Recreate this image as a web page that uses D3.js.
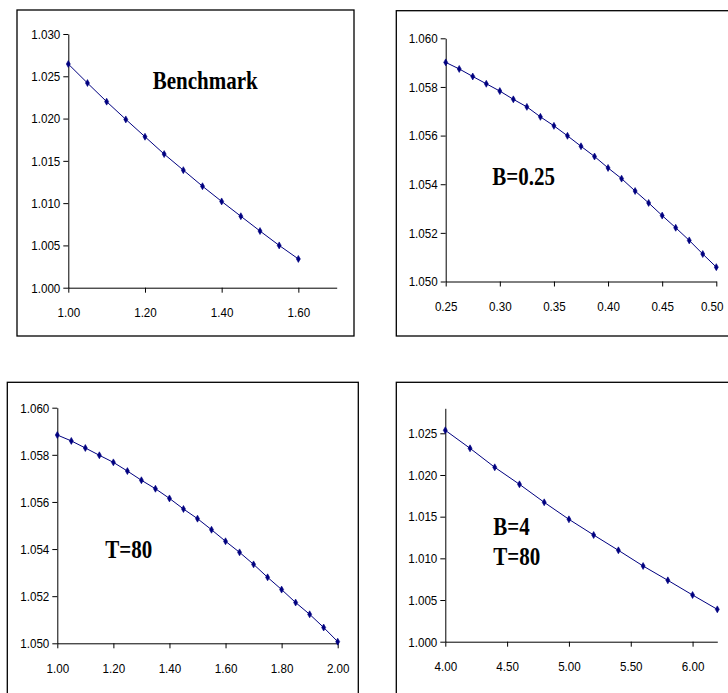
<!DOCTYPE html>
<html>
<head>
<meta charset="utf-8">
<script src="https://cdn.jsdelivr.net/npm/d3@7"></script>
<style>
  html, body { margin: 0; padding: 0; background: #fff; }
  svg { display: block; }
</style>
</head>
<body>
<svg id="chart" width="728" height="693"></svg>
<script>
// ---- data ----
const benchX = [1.00, 1.05, 1.10, 1.15, 1.20, 1.25, 1.30, 1.35, 1.40, 1.45, 1.50, 1.55, 1.60];
const benchY = [1.02645, 1.0242, 1.0220, 1.0199, 1.01785, 1.0158, 1.0139, 1.0120, 1.0102, 1.00845, 1.0067, 1.0050, 1.0034];

const b025X = [0.2500, 0.2625, 0.2750, 0.2875, 0.3000, 0.3125, 0.3250, 0.3375, 0.3500, 0.3625, 0.3750,
               0.3875, 0.4000, 0.4125, 0.4250, 0.4375, 0.4500, 0.4625, 0.4750, 0.4875, 0.5000];
const b025Y = [1.05901, 1.05874, 1.05843, 1.05813, 1.05783, 1.05749, 1.05718, 1.05677, 1.05640, 1.05599, 1.05556,
               1.05514, 1.05467, 1.05423, 1.05372, 1.05323, 1.05271, 1.05221, 1.05169, 1.05113, 1.05059];

const t80X = [1.00, 1.05, 1.10, 1.15, 1.20, 1.25, 1.30, 1.35, 1.40, 1.45, 1.50,
              1.55, 1.60, 1.65, 1.70, 1.75, 1.80, 1.85, 1.90, 1.95, 2.00];
const t80Y = [1.05884, 1.05859, 1.05829, 1.05798, 1.05768, 1.05731, 1.05692, 1.05656, 1.05615, 1.05570, 1.05529,
              1.05482, 1.05433, 1.05386, 1.05335, 1.05280, 1.05228, 1.05173, 1.05123, 1.05067, 1.05007];

const b4t80X = [4.0, 4.2, 4.4, 4.6, 4.8, 5.0, 5.2, 5.4, 5.6, 5.8, 6.0, 6.2];
const b4t80Y = [1.02536, 1.0232, 1.02092, 1.01888, 1.01672, 1.01468, 1.0128, 1.01096, 1.00908, 1.00736, 1.0056, 1.00388];

// tick values
const xTicksBench = [1.0, 1.2, 1.4, 1.6];
const yTicksLow = [1.000, 1.005, 1.010, 1.015, 1.020, 1.025, 1.030];
const xTicksB025 = [0.25, 0.30, 0.35, 0.40, 0.45, 0.50];
const yTicksHigh = [1.050, 1.052, 1.054, 1.056, 1.058, 1.060];
const xTicksT80 = [1.0, 1.2, 1.4, 1.6, 1.8, 2.0];
const xTicksB4 = [4.0, 4.5, 5.0, 5.5, 6.0];
const yTicksB4 = [1.000, 1.005, 1.010, 1.015, 1.020, 1.025];

// panel titles (one entry per line)
const titleBench = ["Benchmark"];
const titleB025 = ["B=0.25"];
const titleT80 = ["T=80"];
const titleB4 = ["B=4", "T=80"];

// ---- layout ----
const panels = [
  { xs: benchX, ys: benchY, xDom: [1.0, 1.7], yDom: [1.000, 1.030], xTicks: xTicksBench, yTicks: yTicksLow,
    box: [17, 10, 354, 336], xr: [68.3, 336.7], yr: [287.7, 34],
    title: titleBench, tx: 152.7, ty: 89.3 },
  { xs: b025X, ys: b025Y, xDom: [0.25, 0.50], yDom: [1.050, 1.060], xTicks: xTicksB025, yTicks: yTicksHigh,
    box: [396.3, 10.7, 740, 336], xr: [445.7, 716.3], yr: [281.5, 38.3],
    title: titleB025, tx: 492.3, ty: 185 },
  { xs: t80X, ys: t80Y, xDom: [1.0, 2.0], yDom: [1.050, 1.060], xTicks: xTicksT80, yTicks: yTicksHigh,
    box: [7.3, 382.3, 358.3, 710], xr: [57.3, 337.7], yr: [643.3, 407.7],
    title: titleT80, tx: 105.3, ty: 558.3 },
  { xs: b4t80X, ys: b4t80Y, xDom: [4.0, 6.2], yDom: [1.000, 1.028], xTicks: xTicksB4, yTicks: yTicksB4,
    box: [396.3, 382.3, 740, 710], xr: [445.3, 717.3], yr: [641.7, 408.3],
    title: titleB4, tx: 493.3, ty: 535 }
];

const W = 728;
const svg = d3.select("#chart");
svg.append("rect").attr("width", W).attr("height", 693).attr("fill", "#fff");

const navy = "#000080";

// squeeze text horizontally to mimic a condensed face
function condense(sel, k) {
  sel.each(function () {
    const w = this.getComputedTextLength();
    d3.select(this).attr("textLength", w * k).attr("lengthAdjust", "spacingAndGlyphs");
  });
}

panels.forEach(p => {
  const g = svg.append("g");
  const [bx0, by0, bx1, by1] = p.box;
  g.append("rect")
    .attr("x", bx0).attr("y", by0)
    .attr("width", bx1 - bx0).attr("height", by1 - by0)
    .attr("fill", "none").attr("stroke", "#000").attr("stroke-width", 1.3);

  const x = d3.scaleLinear().domain(p.xDom).range(p.xr);
  const y = d3.scaleLinear().domain(p.yDom).range(p.yr);

  const xAxis = g.append("g")
    .attr("transform", `translate(0,${p.yr[0]})`)
    .call(d3.axisBottom(x).tickValues(p.xTicks).tickFormat(d3.format(".2f"))
      .tickSizeInner(5).tickSizeOuter(0).tickPadding(15));
  const yAxis = g.append("g")
    .attr("transform", `translate(${p.xr[0]},0)`)
    .call(d3.axisLeft(y).tickValues(p.yTicks).tickFormat(d3.format(".3f"))
      .tickSizeInner(5).tickSizeOuter(0).tickPadding(3));

  [xAxis, yAxis].forEach(a => {
    a.select(".domain").attr("stroke", "#000").attr("stroke-width", 1);
    a.selectAll(".tick line").attr("stroke", "#000").attr("stroke-width", 1);
    a.selectAll(".tick text")
      .attr("fill", "#000")
      .style("font-family", "'Liberation Sans', Arial, sans-serif")
      .style("font-size", "13.5px")
      .call(condense, 0.86);
  });

  // keep a label that would run past the right edge inside the page
  xAxis.selectAll(".tick").each(function (d) {
    const txt = d3.select(this).select("text");
    const w = +txt.attr("textLength");
    const cx = x(d);
    const limit = W - 5;
    if (cx + w / 2 > limit) {
      txt.attr("dx", limit - (cx + w / 2));
    }
  });

  const pts = p.xs.map((v, i) => [v, p.ys[i]]);
  g.append("path")
    .datum(pts)
    .attr("fill", "none").attr("stroke", navy).attr("stroke-width", 1)
    .attr("d", d3.line().x(d => x(d[0])).y(d => y(d[1])));

  g.selectAll(".pt").data(pts).join("path")
    .attr("class", "pt")
    .attr("transform", d => `translate(${x(d[0])},${y(d[1])})`)
    .attr("d", d3.symbol(d3.symbolDiamond, 14))
    .attr("fill", navy).attr("stroke", navy).attr("stroke-width", 0.6);

  const t = g.append("text")
    .attr("x", p.tx).attr("y", p.ty)
    .style("font-family", "'Liberation Serif', 'Times New Roman', serif")
    .style("font-weight", "bold")
    .style("font-size", "25px")
    .attr("fill", "#000");
  p.title.forEach((line, i) => {
    t.append("tspan").attr("x", p.tx).attr("y", p.ty + i * 30).text(line);
  });
  t.selectAll("tspan").call(condense, 0.84);
});
</script>
</body>
</html>
